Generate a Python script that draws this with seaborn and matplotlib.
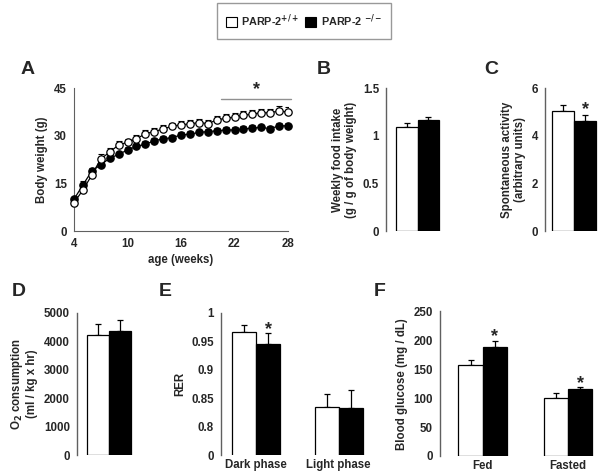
import numpy as np
import pandas as pd
import matplotlib
matplotlib.use("Agg")
import matplotlib.pyplot as plt
from matplotlib.patches import Patch
import seaborn as sns

sns.set_style("white")
plt.rcParams['font.family'] = ['Liberation Sans', 'DejaVu Sans']
plt.rcParams['font.weight'] = 'bold'
plt.rcParams['axes.labelweight'] = 'bold'

# ---------------- data ----------------
groups = ["PARP-2+/+", "PARP-2-/-"]
weeks = list(range(4, 29))
bw_wt = [8.9, 12.9, 17.6, 22.7, 24.8, 27.1, 27.9, 29.0, 30.6, 31.3, 32.1, 33.0, 33.4,
         33.7, 34.1, 33.8, 34.9, 35.5, 35.8, 36.4, 36.8, 37.2, 37.2, 37.8, 37.4]
bw_wt_err = [1.2, 1.2, 1.3, 1.5, 1.4, 1.2, 1.2, 1.2, 1.1, 1.1, 1.1, 1.1, 1.1,
             1.1, 1.1, 1.2, 1.2, 1.2, 1.2, 1.3, 1.3, 1.3, 1.3, 1.4, 1.5]
bw_ko = [10.0, 14.5, 18.9, 20.8, 22.9, 24.1, 25.5, 26.6, 27.3, 28.4, 29.0, 29.4, 30.2,
         30.5, 31.0, 31.3, 31.5, 31.8, 31.8, 32.1, 32.4, 32.6, 32.2, 33.1, 33.1]
bw_ko_err = [1.0, 1.3, 1.0, 0.9, 0.9, 0.9, 0.9, 0.9, 0.9, 0.9, 0.9, 0.9, 0.9,
             0.9, 0.9, 0.9, 0.9, 0.9, 0.9, 0.9, 0.9, 0.9, 0.9, 0.9, 0.9]

food_vals = [1.093, 1.164]
food_err = [0.04, 0.036]

activity_vals = [5.02, 4.62]
activity_err = [0.28, 0.26]

o2_vals = [4200, 4350]
o2_err = [400, 390]

rer_phases = ["Dark phase", "Light phase"]
rer_wt = [0.9655, 0.835]
rer_wt_err = [0.0125, 0.023]
rer_ko = [0.9455, 0.833]
rer_ko_err = [0.0185, 0.032]

glu_states = ["Fed", "Fasted"]
glu_wt = [158, 100]
glu_wt_err = [7, 8]
glu_ko = [188, 116]
glu_ko_err = [11, 2.5]

# ---------------- figure ----------------
W, H = 600, 475
fig = plt.figure(figsize=(6, 4.75), dpi=100)

def add_ax(l, t, r, b):
    return fig.add_axes([l / W, 1 - b / H, (r - l) / W, (b - t) / H])

SPC = "#606060"
FS = 8.3
STAR = 13
palette = {groups[0]: "white", groups[1]: "black"}

def style_bar_ax(ax):
    for s in ["top", "right", "bottom"]:
        ax.spines[s].set_visible(False)
    ax.spines["left"].set_color(SPC)
    ax.spines["left"].set_linewidth(1.0)
    ax.tick_params(axis="y", direction="out", length=3, width=0.8, color=SPC,
                   labelsize=FS, pad=2)
    ax.tick_params(axis="x", length=0, labelsize=FS, pad=3)
    ax.set_xlabel("")
    for lab in ax.get_yticklabels() + ax.get_xticklabels():
        lab.set_fontweight("bold")
    leg = ax.get_legend()
    if leg is not None:
        leg.remove()

def add_errs(ax, vals_by_hue, errs_by_hue):
    bars = [p for p in ax.patches if p.get_width() > 0]
    flat_v = [v for vs in vals_by_hue for v in vs]
    flat_e = [e for es in errs_by_hue for e in es]
    for p, v, e in zip(bars, flat_v, flat_e):
        x = p.get_x() + p.get_width() / 2
        ax.errorbar([x], [v], yerr=[[0], [e]], fmt="none", ecolor="black",
                    elinewidth=0.9, capsize=2.5, capthick=0.9, zorder=1)

def barpanel(ax, cats, wt, ko, width):
    df = pd.DataFrame({"cat": cats * 2,
                       "group": [groups[0]] * len(cats) + [groups[1]] * len(cats),
                       "val": list(wt) + list(ko)})
    sns.barplot(data=df, x="cat", y="val", hue="group", palette=palette,
                edgecolor="black", linewidth=0.9, width=width, errorbar=None,
                ax=ax, zorder=2)

# ---- Panel A ----
axA = add_ax(74, 88, 288, 231)
dfA = pd.DataFrame({"week": weeks * 2,
                    "group": [groups[0]] * len(weeks) + [groups[1]] * len(weeks),
                    "bw": bw_wt + bw_ko})
for g, vals, errs, fc in [(groups[1], bw_ko, bw_ko_err, "black"),
                          (groups[0], bw_wt, bw_wt_err, "white")]:
    axA.errorbar(weeks, vals, yerr=[np.zeros(len(errs)), errs], fmt="none",
                 ecolor="black", elinewidth=0.8, capsize=2, capthick=0.8, zorder=2)
    sns.lineplot(data=dfA[dfA.group == g], x="week", y="bw", color="black",
                 marker="o", markersize=5.3, markerfacecolor=fc,
                 markeredgecolor="black", markeredgewidth=0.9, linewidth=0.9,
                 ax=axA, zorder=3, clip_on=False)
axA.set_xlim(4, 28)
axA.set_ylim(0, 45)
axA.set_xticks([4, 10, 16, 22, 28])
axA.set_yticks([0, 15, 30, 45])
for s in ["top", "right"]:
    axA.spines[s].set_visible(False)
for s in ["left", "bottom"]:
    axA.spines[s].set_color(SPC)
axA.tick_params(direction="out", length=3, width=0.8, color=SPC, labelsize=FS, pad=2)
axA.set_xlabel("age (weeks)", fontsize=FS, fontweight="bold", labelpad=3)
axA.set_ylabel("Body weight (g)", fontsize=FS, fontweight="bold", labelpad=4)
for lab in axA.get_yticklabels() + axA.get_xticklabels():
    lab.set_fontweight("bold")
axA.plot([20.5, 28.3], [41.5, 41.5], color="#909090", lw=1.0, clip_on=False)
axA.text(24.5, 41.8, "*", ha="center", va="bottom", fontsize=STAR, fontweight="bold")

# ---- Panel B ----
axB = add_ax(386, 88, 445, 231)
barpanel(axB, [""], [food_vals[0]], [food_vals[1]], 0.8)
add_errs(axB, [[food_vals[0]], [food_vals[1]]], [[food_err[0]], [food_err[1]]])
axB.set_xlim(-0.585, 0.51)
axB.set_ylim(0, 1.5)
axB.set_yticks([0, 0.5, 1, 1.5])
axB.set_yticklabels(["0", "0.5", "1", "1.5"])
axB.set_ylabel("Weekly food intake\n(g / g of body weight)", fontsize=FS,
               fontweight="bold", labelpad=4, linespacing=1.1)
style_bar_ax(axB)
axB.set_xticks([])

# ---- Panel C ----
axC = add_ax(545, 88, 600, 231)
barpanel(axC, [""], [activity_vals[0]], [activity_vals[1]], 0.8)
add_errs(axC, [[activity_vals[0]], [activity_vals[1]]],
         [[activity_err[0]], [activity_err[1]]])
axC.set_xlim(-0.52, 0.47)
axC.set_ylim(0, 6)
axC.set_yticks([0, 2, 4, 6])
axC.set_ylabel("Spontaneous activity\n(arbitrary units)", fontsize=FS,
               fontweight="bold", labelpad=4, linespacing=1.1)
style_bar_ax(axC)
axC.set_xticks([])
axC.text(0.2, activity_vals[1] + activity_err[1] - 0.15, "*", ha="center",
         va="bottom", fontsize=STAR, fontweight="bold")

# ---- Panel D ----
axD = add_ax(76.7, 312.7, 140, 455)
barpanel(axD, [""], [o2_vals[0]], [o2_vals[1]], 0.8)
add_errs(axD, [[o2_vals[0]], [o2_vals[1]]], [[o2_err[0]], [o2_err[1]]])
axD.set_xlim(-0.58, 0.57)
axD.set_ylim(0, 5000)
axD.set_yticks([0, 1000, 2000, 3000, 4000, 5000])
axD.set_ylabel("O$_\\mathbf{2}$ consumption\n(ml / kg x hr)", fontsize=FS,
               fontweight="bold", labelpad=4, linespacing=1.1)
style_bar_ax(axD)
axD.set_xticks([])

# ---- Panel E (broken axis: bottom tick represents 0) ----
axE = add_ax(221, 312.7, 370, 455)
barpanel(axE, rer_phases, rer_wt, rer_ko, 0.58)
add_errs(axE, [rer_wt, rer_ko], [rer_wt_err, rer_ko_err])
axE.set_xlim(-0.428, 1.38)
axE.set_ylim(0.75, 1.0)
axE.set_yticks([0.75, 0.8, 0.85, 0.9, 0.95, 1.0])
axE.set_yticklabels(["0", "0.8", "0.85", "0.9", "0.95", "1"])
axE.set_ylabel("RER", fontsize=FS, fontweight="bold", labelpad=4)
style_bar_ax(axE)
axE.text(0.145, rer_ko[0] + rer_ko_err[0] - 0.008, "*", ha="center", va="bottom",
         fontsize=STAR, fontweight="bold")

# ---- Panel F ----
axF = add_ax(440, 311.3, 600, 456)
barpanel(axF, glu_states, glu_wt, glu_ko, 0.57)
add_errs(axF, [glu_wt, glu_ko], [glu_wt_err, glu_ko_err])
axF.set_xlim(-0.5, 1.375)
axF.set_ylim(0, 250)
axF.set_yticks([0, 50, 100, 150, 200, 250])
axF.set_ylabel("Blood glucose (mg / dL)", fontsize=FS, fontweight="bold", labelpad=4)
style_bar_ax(axF)
for i in range(2):
    axF.text(i + 0.1425, glu_ko[i] + glu_ko_err[i] - 8, "*", ha="center",
             va="bottom", fontsize=STAR, fontweight="bold")

# ---- panel letters ----
for letter, x, y in [("A", 21, 69), ("B", 317, 69), ("C", 484, 69),
                     ("D", 12, 291), ("E", 159, 291), ("F", 374, 291)]:
    fig.text(x / W, 1 - y / H, letter, fontsize=14, fontweight="bold",
             ha="left", va="center")

# ---- legend ----
handles = [Patch(facecolor="white", edgecolor="black", linewidth=0.8),
           Patch(facecolor="black", edgecolor="black", linewidth=0.8)]
labels = ["PARP-2$^{\\mathbf{+/+}}$", "PARP-2 $^{\\mathbf{-/-}}$"]
leg = fig.legend(handles, labels, loc="center", bbox_to_anchor=(304 / W, 1 - 21 / H),
                 ncol=2, frameon=True, fancybox=False, fontsize=7.8,
                 handlelength=1.0, handleheight=1.1, handletextpad=0.45,
                 columnspacing=0.5, borderpad=0.85, borderaxespad=0)
leg.get_frame().set_edgecolor("#808080")
leg.get_frame().set_linewidth(1.0)
for t in leg.get_texts():
    t.set_fontweight("bold")

fig.savefig("out.png", dpi=100)
